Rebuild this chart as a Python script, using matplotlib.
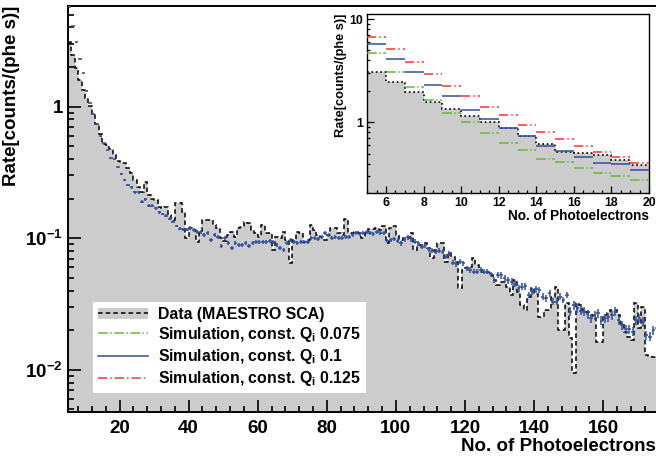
"""Photoelectron rate spectrum: data vs. simulation, with zoomed inset."""

import numpy as np
import matplotlib

matplotlib.use("Agg")
import matplotlib.pyplot as plt
from matplotlib.lines import Line2D
from matplotlib.patches import Patch
from matplotlib.ticker import FixedLocator, LogLocator, MultipleLocator, NullFormatter

# first bin starts at 5 photoelectrons, unit bin width
first_bin = 5

# measured rate (MAESTRO SCA), bins 5..175
rate_data = (
    [3.09, 2.47, 1.98, 1.585, 1.34, 1.16, 1.015, 0.875, 0.743, 0.617,
     0.52, 0.508, 0.48, 0.43, 0.386]
    + [0.375, 0.372, 0.340, 0.312, 0.277, 0.247, 0.226, 0.269, 0.213, 0.198,
       0.195, 0.174, 0.169, 0.174, 0.150, 0.138, 0.185, 0.185, 0.159, 0.100,
       0.119, 0.116, 0.094, 0.109, 0.138, 0.138, 0.138, 0.126, 0.119, 0.100,
       0.096, 0.106, 0.112, 0.103, 0.119]
    + [0.121, 0.134, 0.130, 0.116, 0.109, 0.103, 0.126, 0.109, 0.109, 0.0815,
       0.103, 0.100, 0.112, 0.097, 0.0646, 0.097, 0.112, 0.109, 0.094, 0.097,
       0.126, 0.116, 0.106, 0.103, 0.097, 0.106, 0.119, 0.119, 0.109, 0.106,
       0.139, 0.109, 0.109, 0.112, 0.110, 0.100]
    + [0.109, 0.117, 0.117, 0.119, 0.116, 0.123, 0.0916, 0.119, 0.123, 0.106,
       0.097, 0.100, 0.100, 0.109, 0.0815, 0.089, 0.089, 0.0916, 0.084, 0.0705,
       0.0815, 0.0916, 0.0916, 0.0664, 0.0769, 0.0725, 0.0664, 0.0417, 0.0574, 0.0592,
       0.0608, 0.0705, 0.0627, 0.0574, 0.0557]
    + [0.0557, 0.0526, 0.0482, 0.0442, 0.0468, 0.0468, 0.0429, 0.0371, 0.0482, 0.0393,
       0.0311, 0.0285, 0.036, 0.0417, 0.038, 0.0254, 0.0254, 0.0285, 0.0285, 0.036,
       0.0429, 0.0201, 0.0201, 0.032, 0.0174, 0.0095, 0.0321, 0.0311, 0.0285, 0.0277,
       0.0261, 0.0247, 0.0164, 0.0164, 0.0261, 0.0269, 0.0285, 0.0285, 0.0261, 0.0226,
       0.0195, 0.0179, 0.0169, 0.0321, 0.0207, 0.0302, 0.0130, 0.0126, 0.0126, 0.0126]
)

# simulation, const. Qi = 0.1, bins 5..175
rate_sim_q100 = (
    [5.73, 4.07, 3.09, 2.31, 1.79, 1.32, 1.07, 0.875, 0.738, 0.594,
     0.528, 0.466, 0.404, 0.398, 0.346]
    + [0.308, 0.277, 0.254, 0.244, 0.224, 0.224, 0.189, 0.198, 0.177, 0.177,
       0.169, 0.157, 0.153, 0.148, 0.141, 0.134, 0.124, 0.118, 0.116, 0.116,
       0.119, 0.116, 0.111, 0.112, 0.106, 0.110, 0.097, 0.106, 0.103, 0.0874,
       0.100, 0.0927, 0.0849, 0.0916, 0.0889]
    + [0.089, 0.0916, 0.0874, 0.0916, 0.094, 0.094, 0.093, 0.094, 0.096, 0.093,
       0.089, 0.084, 0.0815, 0.0916, 0.097, 0.093, 0.0916, 0.094, 0.094, 0.094,
       0.100, 0.101, 0.098, 0.103, 0.109, 0.106, 0.100, 0.103, 0.100, 0.101,
       0.102, 0.103, 0.106, 0.109, 0.108, 0.110]
    + [0.112, 0.110, 0.107, 0.111, 0.110, 0.109, 0.096, 0.097, 0.098, 0.096,
       0.0916, 0.098, 0.1016, 0.098, 0.094, 0.0916, 0.0863, 0.089, 0.0824, 0.0805,
       0.0791, 0.0805, 0.0791, 0.0725, 0.0769, 0.0653, 0.0638, 0.0664, 0.0646, 0.0592,
       0.0574, 0.0557, 0.0557, 0.0574, 0.0557]
    + [0.0557, 0.0535, 0.0482, 0.0526, 0.0526, 0.0497, 0.0482, 0.0468, 0.045, 0.0417,
       0.0429, 0.0434, 0.0371, 0.0393, 0.041, 0.0405, 0.036, 0.035, 0.0382, 0.033,
       0.033, 0.036, 0.034, 0.0371, 0.0277, 0.0311, 0.0294, 0.0282, 0.0277, 0.0266,
       0.0247, 0.0261, 0.0269, 0.0237, 0.0247, 0.0251, 0.0261, 0.0277, 0.0239, 0.0219,
       0.0203, 0.0203, 0.0195, 0.0239, 0.0247, 0.0232, 0.0184, 0.0179, 0.0201, 0.0207]
)

# relative statistical error of the simulation, per photoelectron range
sim_err_ranges = [5, 20, 40, 100, 130, 150, 176]
sim_rel_err = [0.008, 0.025, 0.035, 0.045, 0.06, 0.08]

# inset (bins 5..19): other two simulations
inset_sim_q075 = [4.65, 3.09, 2.21, 1.64, 1.24, 1.01, 0.794, 0.627, 0.536, 0.442,
                  0.413, 0.359, 0.326, 0.303, 0.277]
inset_sim_q125 = [6.7, 5.09, 3.81, 2.92, 2.25, 1.79, 1.42, 1.19, 0.942, 0.80,
                  0.684, 0.594, 0.52, 0.466, 0.401]

legend_labels = [
    "Data (MAESTRO SCA)",
    r"Simulation, const. Q$_\mathbf{i}$ 0.075",
    r"Simulation, const. Q$_\mathbf{i}$ 0.1",
    r"Simulation, const. Q$_\mathbf{i}$ 0.125",
]

GRAY = "#cccccc"
BLUE = "#2f4f9f"
GREEN = "#66b833"
RED = "#ff3030"

plt.rcParams["font.family"] = ["Liberation Sans", "DejaVu Sans"]
plt.rcParams["font.weight"] = "bold"
plt.rcParams["mathtext.fontset"] = "custom"
plt.rcParams["mathtext.rm"] = "Liberation Sans:bold"
plt.rcParams["mathtext.bf"] = "Liberation Sans:bold"
plt.rcParams["mathtext.it"] = "Liberation Sans:bold"

rate_data = np.array(rate_data)
rate_sim_q100 = np.array(rate_sim_q100)
edges = np.arange(first_bin, first_bin + len(rate_data) + 1)
centers = edges[:-1] + 0.5
rel = np.array(sim_rel_err)[np.searchsorted(sim_err_ranges, centers, side="right") - 1]

fig = plt.figure(figsize=(6.56, 4.57), dpi=100)
ax = fig.add_axes([0.1032, 0.0991, 0.8968, 0.8878])

ax.stairs(rate_data, edges, fill=True, color=GRAY, baseline=1e-4, zorder=1)
ax.stairs(rate_data, edges, color="black", linestyle=(0, (3, 2)), linewidth=1.1,
          baseline=None, zorder=2)
ax.errorbar(centers, rate_sim_q100, xerr=0.5, yerr=rate_sim_q100 * rel, fmt="none",
            ecolor=BLUE, elinewidth=1.1, capsize=0, zorder=3)

ax.set_yscale("log")
ax.set_xlim(5, 175.3)
ax.set_ylim(0.00481, 5.82)
ax.spines["right"].set_visible(False)
for s in ("left", "bottom", "top"):
    ax.spines[s].set_linewidth(1.4)

ax.xaxis.set_major_locator(MultipleLocator(20))
ax.xaxis.set_minor_locator(MultipleLocator(4))
ax.yaxis.set_major_locator(FixedLocator([0.01, 0.1, 1]))
ax.set_yticklabels([r"10$^{-2}$", r"10$^{-1}$", "1"])
ax.yaxis.set_minor_locator(LogLocator(base=10, subs=np.arange(2, 10)))
ax.yaxis.set_minor_formatter(NullFormatter())
ax.tick_params(which="both", direction="in", top=False, right=False, width=1.2,
               labelsize=13.5)
ax.tick_params(which="major", length=9)
ax.tick_params(which="minor", length=4.5)
ax.tick_params(axis="x", pad=6)
ax.tick_params(axis="y", pad=3.5)
ax.set_xlabel("No. of Photoelectrons", loc="right", fontsize=13.5,
              fontweight="bold", labelpad=1)
ax.set_ylabel("Rate[counts/(phe s)]", loc="top", fontsize=13.5,
              fontweight="bold", labelpad=4)

handles = [
    (Patch(facecolor=GRAY, edgecolor="none"),
     Line2D([], [], color="black", linestyle=(0, (3, 2)), linewidth=1.1)),
    Line2D([], [], color=GREEN, linestyle="-.", linewidth=1.1),
    Line2D([], [], color=BLUE, linestyle="-", linewidth=1.1),
    Line2D([], [], color=RED, linestyle=(0, (6, 2, 1, 2)), linewidth=1.1),
]
leg = ax.legend(handles, legend_labels, loc="upper left",
                bbox_to_anchor=(93 / 656, 1 - 302 / 457),
                bbox_transform=fig.transFigure, fontsize=11.4, frameon=True,
                fancybox=False, edgecolor="white", facecolor="white", framealpha=1,
                handlelength=3.2, handletextpad=0.6, labelspacing=0.2,
                borderpad=0.3, borderaxespad=0)
leg.get_frame().set_linewidth(0)
for t in leg.get_texts():
    t.set_fontweight("bold")

# inset: zoom on first bins
n_in = len(inset_sim_q075)
in_edges = edges[: n_in + 1]
axi = fig.add_axes([0.5599, 0.5770, 0.4294, 0.3923])
axi.set_facecolor("white")
axi.stairs(rate_data[:n_in], in_edges, fill=True, color=GRAY, baseline=1e-3, zorder=1)
axi.stairs(rate_data[:n_in], in_edges, color="black", linestyle=":", linewidth=1.2,
           baseline=None, zorder=2)
axi.hlines(inset_sim_q075, in_edges[:-1], in_edges[1:], colors=GREEN,
           linestyles="-.", linewidth=1.1, zorder=3)
axi.hlines(rate_sim_q100[:n_in], in_edges[:-1], in_edges[1:], colors=BLUE,
           linestyles="-", linewidth=1.1, zorder=3)
axi.hlines(inset_sim_q125, in_edges[:-1], in_edges[1:], colors=RED,
           linestyles=(0, (6, 2, 1, 2)), linewidth=1.1, zorder=3)
axi.set_yscale("log")
axi.set_xlim(5, 20)
axi.set_ylim(0.206, 11.2)
axi.xaxis.set_major_locator(MultipleLocator(2))
axi.xaxis.set_minor_locator(MultipleLocator(0.5))
axi.yaxis.set_major_locator(FixedLocator([1, 10]))
axi.set_yticklabels(["1", "10"])
axi.yaxis.set_minor_locator(LogLocator(base=10, subs=np.arange(2, 10)))
axi.yaxis.set_minor_formatter(NullFormatter())
axi.tick_params(which="both", direction="in", top=False, right=False, width=0.9,
                labelsize=8.8, pad=3)
axi.tick_params(which="major", length=5)
axi.tick_params(which="minor", length=2.5)
for s in axi.spines.values():
    s.set_linewidth(1.0)
axi.set_xlabel("No. of Photoelectrons", loc="right", fontsize=9.8,
               fontweight="bold", labelpad=0)
axi.set_ylabel("Rate[counts/(phe s)]", loc="top", fontsize=9.2,
               fontweight="bold", labelpad=2)

fig.savefig("out.png", dpi=100)
